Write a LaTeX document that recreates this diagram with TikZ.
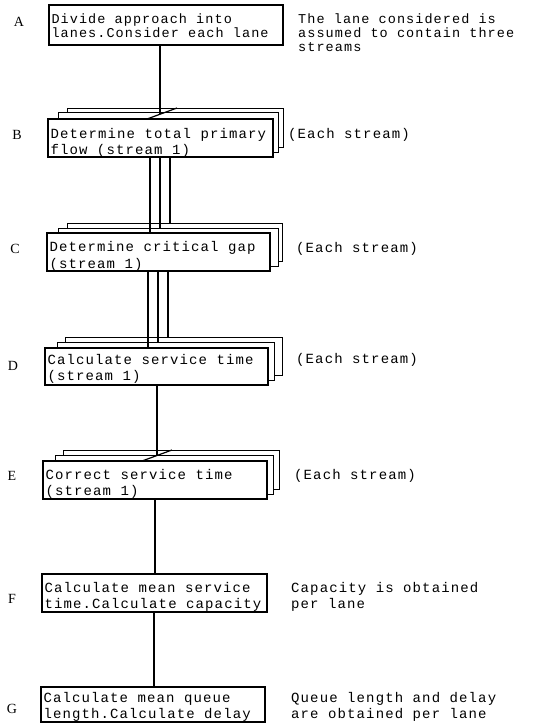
\documentclass[tikz,border=0pt]{standalone}
\usepackage{fontspec}
\setmainfont{Liberation Mono}[LetterSpace=8]
\newfontfamily\labfont{Liberation Serif}
\begin{document}
\begin{tikzpicture}[x=1pt,y=-1pt,
  front/.style={draw,line width=1.4pt,fill=white,rectangle,anchor=center,inner sep=0pt},
  boxtext/.style={anchor=west,align=left,inner sep=0pt,yshift=-2pt,font=\fontsize{14}{16.5}\selectfont},
  line/.style={anchor=base west,inner sep=0pt,font=\fontsize{13.5}{14}\selectfont},
  backbox/.style={draw,line width=0.7pt,fill=white},
  side/.style={anchor=west,align=left,inner sep=0pt,yshift=-2pt,font=\fontsize{14}{16}\selectfont},
  letter/.style={anchor=center,inner sep=0pt,yshift=-1.5pt,font=\labfont\fontsize{14}{16}\selectfont},
  conn/.style={line width=1.2pt}]
\useasboundingbox (0,0) rectangle (534,723);

% ---- A
\node[front,minimum width=234pt,minimum height=40pt] (A) at (166,25) {};
\node[line] (At1) at ([xshift=3pt]A.west |- 0,23.5) {Divide approach into};
\node[line] (At2) at ([xshift=3pt]A.west |- 0,37.5) {lanes.Consider each lane};
\node[letter] (lA) at (19,20) {A};
\node[line] (tA1) at (298,23.5) {The lane considered is};
\node[line] (tA2) at (298,37.5) {assumed to contain three};
\node[line] (tA3) at (298,51.5) {streams};

% ---- B
\draw[backbox] (67,108) rectangle (283,147);
\draw[backbox] (58,112) rectangle (278,152);
\node[front,minimum width=225pt,minimum height=38pt] (B) at (160.5,138) {};
\node[boxtext] (Bt) at ([xshift=3pt,yshift=-3pt]B.west) {Determine total primary\\flow (stream 1)};
\node[letter] (lB) at (17,133) {B};
\node[side] (tB) at (288,133) {(Each stream)};

% ---- C
\draw[backbox] (67,223) rectangle (282,261);
\draw[backbox] (58,228) rectangle (278,266);
\node[front,minimum width=223pt,minimum height=38pt] (C) at (158.5,252) {};
\node[boxtext] (Ct) at ([xshift=3pt,yshift=-2.5pt]C.west) {Determine critical gap\\(stream 1)};
\node[letter] (lC) at (15,247) {C};
\node[side] (tC) at (296,247) {(Each stream)};

% ---- D
\draw[backbox] (65,337) rectangle (282,375);
\draw[backbox] (57,342) rectangle (274,380);
\node[front,minimum width=223pt,minimum height=37pt] (D) at (156.5,366.5) {};
\node[boxtext] (Dt) at ([xshift=3pt,yshift=-0.5pt]D.west) {Calculate service time\\(stream 1)};
\node[letter] (lD) at (13,364) {D};
\node[side] (tD) at (296,358) {(Each stream)};

% ---- E
\draw[backbox] (63,450) rectangle (279,489);
\draw[backbox] (55,455) rectangle (273,494);
\node[front,minimum width=224pt,minimum height=38pt] (E) at (155,480) {};
\node[boxtext] (Et) at ([xshift=3pt,yshift=-2pt]E.west) {Correct service time\\(stream 1)};
\node[letter] (lE) at (12,474) {E};
\node[side] (tE) at (294,474) {(Each stream)};

% ---- F
\node[front,minimum width=225pt,minimum height=38pt] (F) at (154.5,593) {};
\node[boxtext] (Ft) at ([xshift=3pt,yshift=-2pt]F.west) {Calculate mean service\\time.Calculate capacity};
\node[letter] (lF) at (12,597) {F};
\node[side] (tF) at (291,595) {Capacity is obtained\\per lane};

% ---- G
\node[front,minimum width=224pt,minimum height=35pt] (G) at (153,704.5) {};
\node[boxtext] (Gt) at ([xshift=3pt,yshift=-0.5pt]G.west) {Calculate mean queue\\length.Calculate delay};
\node[letter] (lG) at (12,707) {G};
\node[side] (tG) at (291,705) {Queue length and delay\\are obtained per lane};

% ---- connectors
\coordinate (ab) at (160,114);
\coordinate (abL) at (147,119);
\coordinate (abR) at (177,108);
\draw[conn] (ab |- A.south) -- (ab);
\draw[conn] (abL) -- (abR);

\coordinate (bc1) at (150,233);
\coordinate (bc2) at (160,228);
\coordinate (bc3) at (170,223);
\draw[conn] (bc1 |- B.south) -- (bc1);
\draw[conn] (bc2 |- B.south) -- (bc2);
\draw[conn] (bc3 |- B.south) -- (bc3);

\coordinate (cd1) at (148,348);
\coordinate (cd2) at (158,342);
\coordinate (cd3) at (168,337);
\draw[conn] (cd1 |- C.south) -- (cd1);
\draw[conn] (cd2 |- C.south) -- (cd2);
\draw[conn] (cd3 |- C.south) -- (cd3);

\coordinate (de) at (157,455.5);
\coordinate (deL) at (142,461);
\coordinate (deR) at (172,450);
\draw[conn] (de |- D.south) -- (de);
\draw[conn] (deL) -- (deR);

\coordinate (ef) at (155,0);
\draw[conn] (ef |- E.south) -- (ef |- F.north);
\coordinate (fg) at (154,0);
\draw[conn] (fg |- F.south) -- (fg |- G.north);
\end{tikzpicture}
\end{document}
